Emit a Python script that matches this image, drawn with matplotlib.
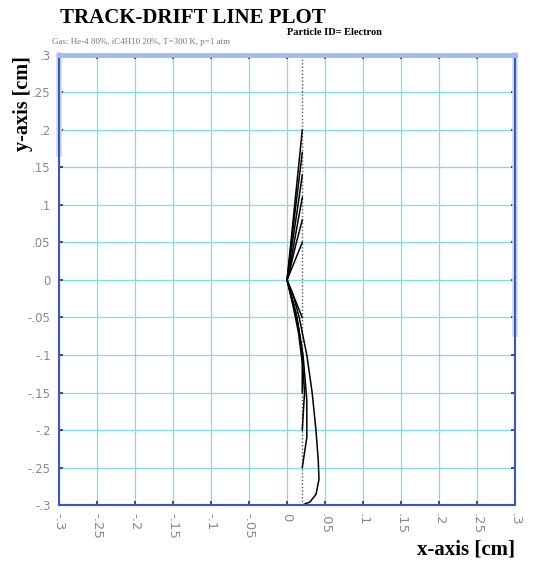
import matplotlib.pyplot as plt
import numpy as np

# Трек частицы (пунктир) и дрейфовые линии к проволоке в (0, 0)
track_x = [0.02, 0.02]
track_y = [-0.3, 0.3]

drift_lines = [
    ([0.02, 0.015, 0.01, 0.005, 0.0], [0.2, 0.15, 0.1, 0.05, 0.0]),
    ([0.02, 0.014, 0.008, 0.0], [0.17, 0.12, 0.07, 0.0]),
    ([0.02, 0.013, 0.007, 0.0], [0.14, 0.09, 0.05, 0.0]),
    ([0.02, 0.012, 0.005, 0.0], [0.11, 0.065, 0.025, 0.0]),
    ([0.02, 0.011, 0.004, 0.0], [0.08, 0.045, 0.015, 0.0]),
    ([0.02, 0.01, 0.0], [0.05, 0.025, 0.0]),
    ([0.02, 0.01, 0.0], [-0.05, -0.025, 0.0]),
    ([0.02, 0.016, 0.009, 0.0], [-0.1, -0.07, -0.035, 0.0]),
    ([0.02, 0.02, 0.015, 0.008, 0.0], [-0.15, -0.11, -0.07, -0.035, 0.0]),
    ([0.02, 0.023, 0.019, 0.012, 0.0], [-0.2, -0.15, -0.09, -0.045, 0.0]),
    ([0.02, 0.026, 0.026, 0.021, 0.013, 0.0], [-0.25, -0.21, -0.16, -0.1, -0.05, 0.0]),
    ([0.02, 0.03, 0.038, 0.042, 0.041, 0.038, 0.033, 0.026, 0.016, 0.008, 0.0],
     [-0.3, -0.296, -0.286, -0.266, -0.24, -0.2, -0.15, -0.1, -0.05, -0.02, 0.0]),
]

ticks = [-0.3, -0.25, -0.2, -0.15, -0.1, -0.05, 0, 0.05, 0.1, 0.15, 0.2, 0.25, 0.3]
tick_labels = ['-.3', '-.25', '-.2', '-.15', '-.1', '-.05', '0',
               '.05', '.1', '.15', '.2', '.25', '.3']

fig = plt.figure(figsize=(5.47, 5.64), dpi=100)
ax = fig.add_axes([0.108, 0.1046, 0.8336, 0.7979])

ax.plot(track_x, track_y, color='#555555', linestyle=(0, (1, 1.5)), linewidth=1.0)
for xs, ys in drift_lines:
    ax.plot(xs, ys, color='black', linewidth=1.1)

ax.set_xlim(-0.3, 0.3)
ax.set_ylim(-0.3, 0.3)
ax.set_xticks(ticks)
ax.set_yticks(ticks)
ax.set_xticklabels(tick_labels, rotation=270, color='#888888', fontsize=9.5)
ax.set_yticklabels(tick_labels, color='#888888', fontsize=8.5)
ax.tick_params(direction='in', length=3, width=1.2, color='#203080',
               top=True, right=True, pad=6)
ax.grid(True, color='#7fdde8', linewidth=0.9)
ax.set_axisbelow(True)

for side in ['left', 'right', 'bottom']:
    ax.spines[side].set_color('#3a55c8')
    ax.spines[side].set_linewidth(1.5)
ax.spines['top'].set_color('#9fbcf0')
ax.spines['top'].set_linewidth(3.5)

# светлая полоса по краю рамки, как на исходном рисунке
ax.plot([0, 0], [0.78, 1], transform=ax.transAxes, color='#c8daf6',
        linewidth=4, clip_on=False)
ax.plot([1, 1], [0.38, 1], transform=ax.transAxes, color='#c8daf6',
        linewidth=4, clip_on=False)

serif = ['Liberation Serif', 'DejaVu Serif']
fig.text(0.11, 0.968, 'TRACK-DRIFT LINE PLOT', fontfamily=serif,
         fontweight='bold', fontsize=15, va='center')
fig.text(0.525, 0.942, 'Particle ID= Electron', fontfamily=serif,
         fontweight='bold', fontsize=7.5, va='center')
fig.text(0.095, 0.925, 'Gas: He-4 80%, iC4H10 20%, T=300 K, p=1 atm',
         fontfamily=serif, fontsize=6.5, color='#777777', va='center')
fig.text(0.042, 0.817, 'y-axis [cm]', fontfamily=serif, fontweight='bold',
         fontsize=14.5, rotation=90, ha='center', va='center')
fig.text(0.942, 0.025, 'x-axis [cm]', fontfamily=serif, fontweight='bold',
         fontsize=15, ha='right', va='center')

plt.savefig('out.png', dpi=100)
